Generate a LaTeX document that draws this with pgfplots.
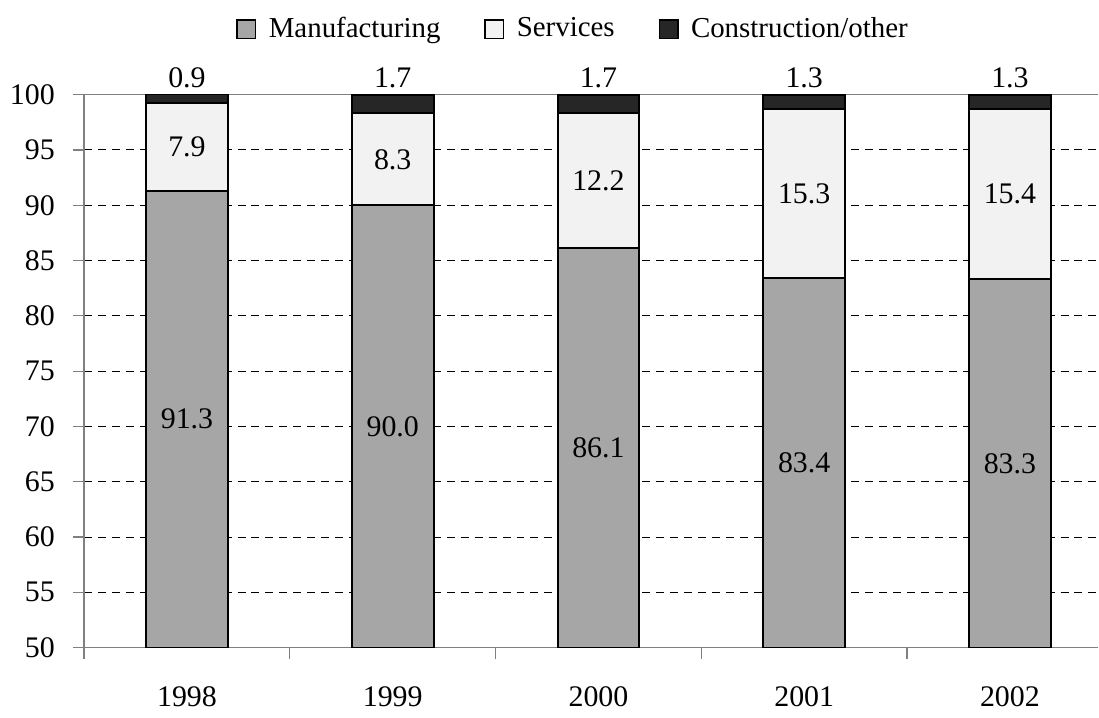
\documentclass[border=0pt]{standalone}
\usepackage{fontspec}
\setmainfont{Liberation Serif}
\usepackage{pgfplots}
\pgfplotsset{compat=1.18}
\definecolor{manuf}{HTML}{A6A6A6}
\definecolor{serv}{HTML}{F2F2F2}
\definecolor{constr}{HTML}{262626}
\definecolor{axgray}{HTML}{808080}
\begin{document}
\fontsize{15}{18}\selectfont
\begin{tikzpicture}
\begin{axis}[
  scale only axis, width=509pt, height=277.5pt,
  ybar stacked, bar width=41pt,
  xmin=-0.5, xmax=4.43, ymin=50, ymax=100,
  axis x line*=bottom, axis y line*=left,
  axis line style={axgray, line width=0.6pt},
  xtick={0,1,2,3,4}, xticklabels={1998,1999,2000,2001,2002},
  minor xtick={-0.5,0.5,1.5,2.5,3.5},
  major x tick style={draw=none},
  minor x tick style={draw=axgray, line width=0.6pt},
  minor tick length=5.5pt, major tick length=5.5pt,
  tick align=outside,
  ytick={55,60,...,95},
  extra y ticks={50,100},
  extra y tick style={grid style={solid, axgray, line width=0.6pt}},
  ymajorgrids,
  grid style={dashed, black, line width=0.5pt, dash pattern=on 4pt off 3pt},
  y tick style={axgray, line width=0.6pt},
  /pgf/number format/assume math mode=true,
  tick label style={font=\fontsize{15}{18}\selectfont},
  yticklabel style={xshift=-4pt},
  xticklabel style={yshift=-9pt},
  legend style={draw=none, fill=none, at={(0.483,1.118)}, anchor=center,
    legend columns=3, font=\fontsize{14.5}{17}\selectfont,
    /tikz/every even column/.append style={column sep=20pt}},
  legend image code/.code={\draw[#1,draw=black,line width=0.6pt] (0pt,-4.75pt) rectangle (9.5pt,4.75pt);\path[draw=none,fill=none] (0pt,0pt) -- (14pt,0pt);},
  every axis plot/.append style={draw=black, line width=1pt},
]
\addplot[fill=manuf] coordinates {(0,91.3) (1,90.0) (2,86.1) (3,83.4) (4,83.3)};
\addplot[fill=serv] coordinates {(0,7.9) (1,8.3) (2,12.2) (3,15.3) (4,15.4)};
\addplot[fill=constr] coordinates {(0,0.9) (1,1.7) (2,1.7) (3,1.3) (4,1.3)};
\legend{Manufacturing, Services, Construction/other}
\coordinate (BL) at (rel axis cs:0,0);
\coordinate (TR) at (rel axis cs:1,1);
\coordinate (m0) at (axis cs:0,70.65);
\coordinate (m1) at (axis cs:1,70.0);
\coordinate (m2) at (axis cs:2,68.05);
\coordinate (m3) at (axis cs:3,66.7);
\coordinate (m4) at (axis cs:4,66.65);
\coordinate (s0) at (axis cs:0,95.25);
\coordinate (s1) at (axis cs:1,94.15);
\coordinate (s2) at (axis cs:2,92.2);
\coordinate (s3) at (axis cs:3,91.05);
\coordinate (s4) at (axis cs:4,91.0);
\coordinate (c0) at (axis cs:0,100);
\coordinate (c1) at (axis cs:1,100);
\coordinate (c2) at (axis cs:2,100);
\coordinate (c3) at (axis cs:3,100);
\coordinate (c4) at (axis cs:4,100);
\end{axis}
\node at (m0) {91.3};
\node at (m1) {90.0};
\node at (m2) {86.1};
\node at (m3) {83.4};
\node at (m4) {83.3};
\node at (s0) {7.9};
\node at (s1) {8.3};
\node at (s2) {12.2};
\node at (s3) {15.3};
\node at (s4) {15.4};
\node[anchor=base, yshift=3.5pt] at (c0) {0.9};
\node[anchor=base, yshift=3.5pt] at (c1) {1.7};
\node[anchor=base, yshift=3.5pt] at (c2) {1.7};
\node[anchor=base, yshift=3.5pt] at (c3) {1.3};
\node[anchor=base, yshift=3.5pt] at (c4) {1.3};
\path (BL) ++(-40.5pt,-29pt);
\path (TR) ++(0pt,47.5pt);
\end{tikzpicture}
\end{document}
